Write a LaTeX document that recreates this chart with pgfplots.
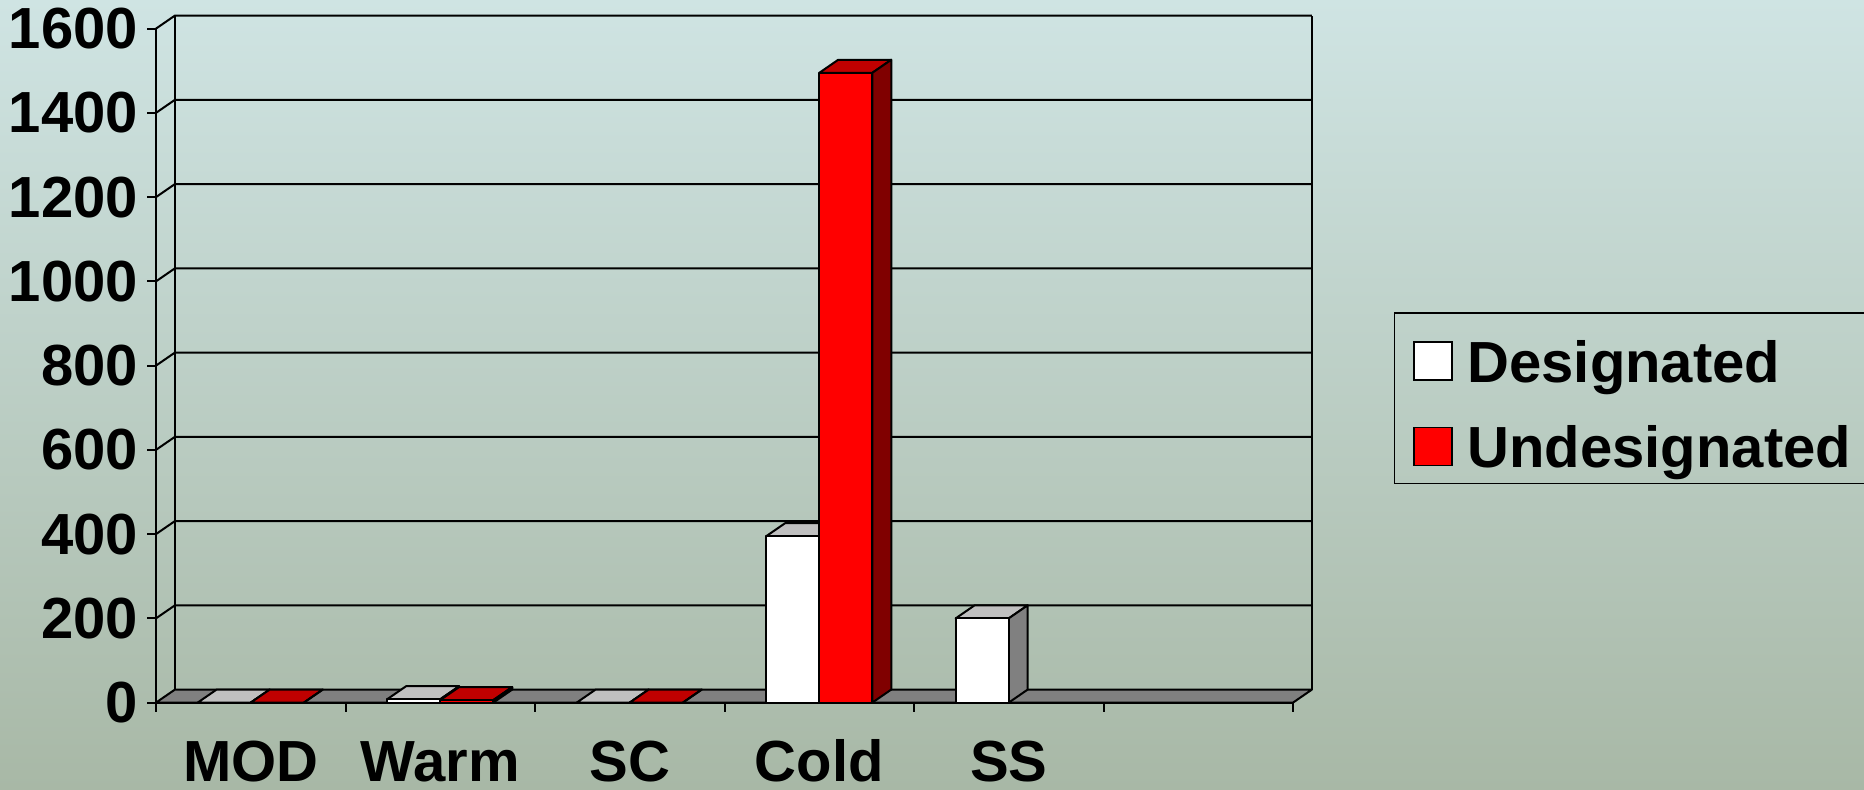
\documentclass[border=0pt]{standalone}
\usepackage{fontspec}
\setmainfont{Liberation Sans}
\usepackage{pgfplots}
\pgfplotsset{compat=1.18}
\definecolor{bgtop}{RGB}{207,228,227}
\definecolor{bgbot}{RGB}{168,184,166}
\definecolor{floorgray}{RGB}{128,128,128}
\definecolor{lgray}{RGB}{192,192,192}
\definecolor{dred}{RGB}{192,0,0}
\definecolor{ddred}{RGB}{128,0,0}
% one 3D bar: left x, right x, value, front colour, top colour, side colour
\newcommand\cbar[6]{%
  \pgfmathsetmacro\xl{#1}\pgfmathsetmacro\xr{#2}%
  \pgfmathsetmacro\xlb{#1+0.1}\pgfmathsetmacro\xrb{#2+0.1}%
  \pgfmathsetmacro\hb{#3+31}%
  \edef\doit{%
    \noexpand\addplot[forget plot,mark=none,draw=black,line width=1pt,line join=round,fill=#5]
      coordinates {(\xl,#3) (\xr,#3) (\xrb,\hb) (\xlb,\hb)} --cycle;
    \noexpand\addplot[forget plot,mark=none,draw=black,line width=1pt,line join=round,fill=#6]
      coordinates {(\xr,0) (\xrb,31) (\xrb,\hb) (\xr,#3)} --cycle;
    \noexpand\addplot[forget plot,mark=none,draw=black,line width=1pt,line join=round,fill=#4]
      coordinates {(\xl,0) (\xr,0) (\xr,#3) (\xl,#3)} --cycle;
  }\doit}
\begin{document}
\begin{tikzpicture}
\useasboundingbox (0,0) rectangle (932pt,-394.5pt);
\fill[top color=bgtop,bottom color=bgbot] (0,0) rectangle (932pt,-394.5pt);
\draw[line width=0.8pt] (932pt,-156.5pt) -- (697.3pt,-156.5pt) -- (697.3pt,-241.65pt) -- (932pt,-241.65pt);
\begin{axis}[
  at={(78pt,-351.3pt)}, anchor=south west,
  scale only axis, width=568.5pt, height=337pt,
  xmin=0, xmax=6, ymin=0, ymax=1600,
  clip=false,
  axis x line*=bottom, axis y line*=left,
  axis line style={-,line width=1pt},
  xtick={0,...,6}, xticklabels={MOD,Warm,SC,Cold,SS,},
  x tick label as interval,
  ytick={0,200,...,1600},
  tick align=outside, major tick length=4.5pt,
  tick style={black,line width=1pt},
  /pgf/number format/assume math mode=true,
  /pgf/number format/1000 sep={},
  ticklabel style={font=\fontsize{29}{34}\selectfont\bfseries},
  yticklabel style={anchor=east, inner sep=0pt, xshift=-4.3pt},
  xticklabel style={anchor=base, inner sep=0pt, yshift=-35pt},
  legend style={at={(1,1)}, anchor=north west, xshift=50.8pt, yshift=-153.45pt,
    draw=none, fill=none, outer sep=0pt,
    font=\fontsize{29}{34}\selectfont\bfseries,
    nodes={inner sep=0pt, text depth=},
    inner xsep=9.2pt, inner ysep=2.35pt, row sep=15.4pt,
    /tikz/every odd column/.append style={column sep=7.3pt}},
  legend cell align=left,
  legend image code/.code={%
    \path[draw=none,fill=none] (-0.5pt,-13.45pt) rectangle (19.5pt,13.45pt);
    \draw[#1,line width=0.8pt] (0pt,-6.45pt) rectangle (19pt,12.55pt);},
]
\addlegendimage{draw=black,fill=white}
\addlegendentry{Designated}
\addlegendimage{draw=black,fill=red}
\addlegendentry{Undesignated}
% floor
\draw[fill=floorgray,line width=1pt,line join=round] (axis cs:0,0) -- (axis cs:6,0) -- (axis cs:6.1,31) -- (axis cs:0.1,31) -- cycle;
% walls and grid
\pgfplotsinvokeforeach{200,400,...,1600}{\draw[line width=1pt] (axis cs:0,#1) -- (axis cs:0.1,#1+31) -- (axis cs:6.1,#1+31);}
\draw[line width=1pt] (axis cs:0.1,31) -- (axis cs:0.1,1631);
\draw[line width=1pt] (axis cs:6.1,31) -- (axis cs:6.1,1631);
% bars: Designated (white), Undesignated (red)
\cbar{0.22}{0.5}{0}{white}{lgray}{floorgray}
\cbar{0.5}{0.78}{0}{red}{dred}{ddred}
\cbar{1.22}{1.5}{8}{white}{lgray}{floorgray}
\cbar{1.5}{1.78}{6}{red}{dred}{ddred}
\cbar{2.22}{2.5}{0}{white}{lgray}{floorgray}
\cbar{2.5}{2.78}{0}{red}{dred}{ddred}
\cbar{3.22}{3.5}{395}{white}{lgray}{floorgray}
\cbar{3.5}{3.78}{1495}{red}{dred}{ddred}
\cbar{4.22}{4.5}{200}{white}{lgray}{floorgray}
\end{axis}
\end{tikzpicture}
\end{document}
